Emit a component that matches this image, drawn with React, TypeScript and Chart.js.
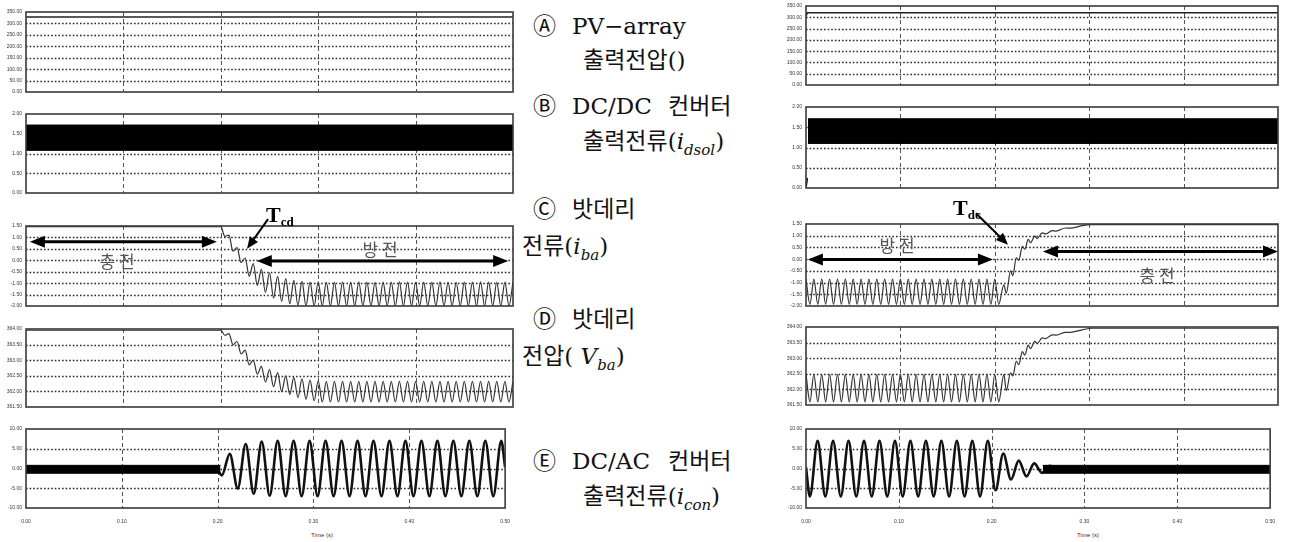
import React, { useEffect, useRef } from "react";
import { Chart, registerables } from "chart.js";
Chart.register(...registerables);

// ---------------- data ----------------
const timeTicks = [0, 0.1, 0.2, 0.3, 0.4, 0.5];
const aTicks = [0, 50, 100, 150, 200, 250, 300, 350];
const bTicks = [0, 0.5, 1, 1.5, 2];
const cTicks = [-2, -1.5, -1, -0.5, 0, 0.5, 1, 1.5];
const dTicks = [361.5, 362, 362.5, 363, 363.5, 364];
const eTicks = [-10, -5, 0, 5, 10];

// A: PV-array output voltage
const leftAT = [0, 0.5];
const leftAV = [328, 328];
const rightAT = [0, 0.0015, 0.5];
const rightAV = [305, 320, 320];

// B: DC/DC converter output current (dense ripple band: upper / lower envelope)
const leftBT = [0, 0.5];
const leftBUpper = [1.72, 1.72];
const leftBLower = [1.08, 1.08];
const rightBT = [0.002, 0.5];
const rightBUpper = [1.71, 1.71];
const rightBLower = [1.1, 1.1];
const rightBStartT = [0, 0.0015];
const rightBStartV = [0, 0.25];

// battery waveforms sampled at every half-cycle of the 120 Hz ripple
const battStep = 1 / 240;

// C: battery current, left (charge -> discharge at 0.2 s)
const leftCPreT = [0];
const leftCPreV = [1.47];
const leftCStart = 0.2;
const leftCV = [
  1.47, 1.05, 1.1, 0.4, 0.55, -0.1, 0.1, -0.7, -0.15, -1.1, -0.4, -1.4, -0.55, -1.65, -0.7, -1.8, -0.8, -1.9, -0.88, -1.96, -0.92,
  -2.0, -0.95, -2.0, -0.94, -2.0, -0.95, -2.0, -0.96, -2.0, -0.95,
  -2.0, -0.95, -2.0, -0.94, -2.0, -0.95, -2.0, -0.96, -2.0, -0.95,
  -2.0, -0.95, -2.0, -0.94, -2.0, -0.95, -2.0, -0.96, -2.0, -0.95,
  -2.0, -0.95, -2.0, -0.94, -2.0, -0.95, -2.0, -0.96, -2.0, -0.95,
  -2.0, -0.95, -2.0, -0.94, -2.0, -0.95, -2.0, -0.96, -2.0, -0.95,
  -2.0, -0.95,
];

// D: battery voltage, left
const leftDPreT = [0];
const leftDPreV = [363.96];
const leftDStart = 0.2;
const leftDV = [
  363.96, 363.8, 363.85, 363.5, 363.6, 363.2, 363.32, 362.85, 363.0, 362.55, 362.8, 362.3, 362.7, 362.15, 362.6, 362.0,
  362.5, 361.9, 362.45, 361.8, 362.4, 361.75, 362.36, 361.7, 362.34,
  361.66, 362.32, 361.66, 362.32, 361.66, 362.32, 361.66, 362.32, 361.66, 362.32, 361.66, 362.32,
  361.66, 362.32, 361.66, 362.32, 361.66, 362.32, 361.66, 362.32, 361.66, 362.32, 361.66, 362.32,
  361.66, 362.32, 361.66, 362.32, 361.66, 362.32, 361.66, 362.32, 361.66, 362.32, 361.66, 362.32,
  361.66, 362.32, 361.66, 362.32, 361.66, 362.32, 361.66, 362.32, 361.66, 362.32, 361.66, 362.32,
];

// C: battery current, right (discharge -> charge at 0.2 s)
const rightCStart = 0;
const rightCSteadyV = [
  -0.85, -1.93, -0.85, -1.93, -0.85, -1.93, -0.85, -1.93, -0.85, -1.93,
  -0.85, -1.93, -0.85, -1.93, -0.85, -1.93, -0.85, -1.93, -0.85, -1.93,
  -0.85, -1.93, -0.85, -1.93, -0.85, -1.93, -0.85, -1.93, -0.85, -1.93,
  -0.85, -1.93, -0.85, -1.93, -0.85, -1.93, -0.85, -1.93, -0.85, -1.93,
  -0.85, -1.93, -0.85, -1.93, -0.85, -1.93, -0.85, -1.93, -0.85, -1.93,
];
const rightTransT = [
  0.2096, 0.2122, 0.2167, 0.2191, 0.2227, 0.2255, 0.2291, 0.2318, 0.2354, 0.2378, 0.2424,
  0.2449, 0.2502, 0.254, 0.2608, 0.265, 0.2748, 0.28, 0.2925, 0.303, 0.5,
];
const rightCTransV = [
  -1.1, -1.45, -0.5, -0.7, 0.05, -0.05, 0.55, 0.42, 0.84, 0.7, 0.98, 0.88, 1.12, 1.08, 1.22, 1.2, 1.33, 1.32, 1.43, 1.47, 1.47,
];

// D: battery voltage, right
const rightDStart = 0;
const rightDSteadyV = [
  362.48, 361.6, 362.48, 361.6, 362.48, 361.6, 362.48, 361.6, 362.48, 361.6,
  362.48, 361.6, 362.48, 361.6, 362.48, 361.6, 362.48, 361.6, 362.48, 361.6,
  362.48, 361.6, 362.48, 361.6, 362.48, 361.6, 362.48, 361.6, 362.48, 361.6,
  362.48, 361.6, 362.48, 361.6, 362.48, 361.6, 362.48, 361.6, 362.48, 361.6,
  362.48, 361.6, 362.48, 361.6, 362.48, 361.6, 362.48, 361.6, 362.48, 361.6,
];
const rightDTransV = [
  362.48, 361.96, 362.53, 362.43, 362.9, 362.79, 363.21, 363.1, 363.42, 363.31, 363.54,
  363.47, 363.65, 363.63, 363.75, 363.74, 363.83, 363.83, 363.91, 363.96, 363.96,
];

// E: DC/AC converter output current (60 Hz, sampled at each half-cycle)
const acStep = 1 / 120;
const leftEBandT = [0, 0.203];
const leftEBandUpper = [0.8, 0.8];
const leftEBandLower = [-1.2, -1.2];
const leftEPreT = [0.2];
const leftEPreV = [-0.2];
const leftEStart = 0.2043;
const leftEV = [
  -1.75, 3.7, -5.1, 6.2, -6.4, 6.8, -6.9, 7.0,
  -7.0, 7.0, -7.0, 7.0, -7.0, 7.0, -7.0, 7.0, -7.0, 7.0, -7.0, 7.0, -7.0, 7.0,
  -7.0, 7.0, -7.0, 7.0, -7.0, 7.0, -7.0, 7.0, -7.0, 7.0, -7.0, 7.0, -7.0, 7.0,
];
const leftEEndT = [0.5];
const leftEEndV = [0.3];

const rightEPreT = [0];
const rightEPreV = [0.3];
const rightEStart = 1 / 240;
const rightEV = [
  -7.1, 7.0, -7.1, 7.0, -7.1, 7.0, -7.1, 7.0, -7.1, 7.0, -7.1, 7.0,
  -7.1, 7.0, -7.1, 7.0, -7.1, 7.0, -7.1, 7.0, -7.1, 7.0, -7.1, 7.0,
  -5.5, 3.8, -2.8, 2.0, -2.0, 1.3, -1.1, 0.7, -0.6,
];
const rightEBandT = [0.255, 0.5];
const rightEBandUpper = [0.8, 0.8];
const rightEBandLower = [-1.2, -1.2];

// ---------------- helpers ----------------
const pts = (t: number[], v: number[]) => t.map((x, i) => ({ x, y: v[i] }));
const sampled = (t0: number, step: number, v: number[]) => v.map((y, i) => ({ x: t0 + i * step, y }));

const line = (data: any[], width: number, color: string, smooth = false) => ({
  data,
  borderColor: color,
  borderWidth: width,
  pointRadius: 0,
  fill: false,
  tension: 0,
  cubicInterpolationMode: smooth ? "monotone" : "default",
});
const band = (t: number[], up: number[], lo: number[]) => [
  { data: pts(t, up), borderColor: "#000", borderWidth: 1, backgroundColor: "#000", fill: "+1", pointRadius: 0, tension: 0 },
  { data: pts(t, lo), borderColor: "#000", borderWidth: 1, fill: false, pointRadius: 0, tension: 0 },
];

type Arrow = { kind: "double" | "single"; x1: number; y1: number; x2: number; y2: number };

function drawHead(ctx: CanvasRenderingContext2D, tx: number, ty: number, fx: number, fy: number, len: number, half: number) {
  const a = Math.atan2(ty - fy, tx - fx);
  const bx = tx - len * Math.cos(a);
  const by = ty - len * Math.sin(a);
  ctx.beginPath();
  ctx.moveTo(tx, ty);
  ctx.lineTo(bx + half * Math.sin(a), by - half * Math.cos(a));
  ctx.lineTo(bx - half * Math.sin(a), by + half * Math.cos(a));
  ctx.closePath();
  ctx.fill();
}

const sketchPlugin = {
  id: "sketch",
  beforeDatasetsDraw(chart: any, _a: any, opts: any) {
    const { ctx, chartArea: ar, scales } = chart;
    const xs = scales.x;
    const ys = scales.y;
    ctx.save();
    ctx.strokeStyle = "#2a2a2a";
    ctx.lineWidth = 1.3;
    ctx.setLineDash([1.6, 2]);
    for (const v of opts.yTicks as number[]) {
      if (v === ys.min || v === ys.max) continue;
      const py = Math.round(ys.getPixelForValue(v)) + 0.5;
      ctx.beginPath();
      ctx.moveTo(ar.left, py);
      ctx.lineTo(ar.right, py);
      ctx.stroke();
    }
    ctx.strokeStyle = "#555";
    ctx.lineWidth = 1;
    ctx.setLineDash([4, 3]);
    for (const v of opts.xTicks as number[]) {
      if (v === xs.min || v === xs.max) continue;
      const px = Math.round(xs.getPixelForValue(v)) + 0.5;
      ctx.beginPath();
      ctx.moveTo(px, ar.top);
      ctx.lineTo(px, ar.bottom);
      ctx.stroke();
    }
    ctx.restore();
  },
  afterDatasetsDraw(chart: any, _a: any, opts: any) {
    const { ctx, chartArea: ar, scales } = chart;
    ctx.save();
    ctx.setLineDash([]);
    ctx.strokeStyle = "#3a3a3a";
    ctx.lineWidth = 1.6;
    ctx.strokeRect(ar.left, ar.top, ar.right - ar.left, ar.bottom - ar.top);
    ctx.fillStyle = "#000";
    ctx.strokeStyle = "#000";
    for (const a of (opts.arrows || []) as Arrow[]) {
      const x1 = scales.x.getPixelForValue(a.x1);
      const y1 = scales.y.getPixelForValue(a.y1);
      const x2 = scales.x.getPixelForValue(a.x2);
      const y2 = scales.y.getPixelForValue(a.y2);
      const ang = Math.atan2(y2 - y1, x2 - x1);
      if (a.kind === "double") {
        const len = 15;
        ctx.lineWidth = 3;
        ctx.beginPath();
        ctx.moveTo(x1 + (len - 2) * Math.cos(ang), y1 + (len - 2) * Math.sin(ang));
        ctx.lineTo(x2 - (len - 2) * Math.cos(ang), y2 - (len - 2) * Math.sin(ang));
        ctx.stroke();
        drawHead(ctx, x1, y1, x2, y2, len, 6);
        drawHead(ctx, x2, y2, x1, y1, len, 6);
      } else {
        const len = 12;
        ctx.lineWidth = 2;
        ctx.beginPath();
        ctx.moveTo(x1, y1);
        ctx.lineTo(x2 - (len - 2) * Math.cos(ang), y2 - (len - 2) * Math.sin(ang));
        ctx.stroke();
        drawHead(ctx, x2, y2, x1, y1, len, 5);
      }
    }
    ctx.restore();
  },
};

// annotation arrows (time, value coordinates of each C plot)
const leftCArrows: Arrow[] = [
  { kind: "double", x1: 0.004, y1: 0.81, x2: 0.196, y2: 0.81 },
  { kind: "double", x1: 0.237, y1: -0.03, x2: 0.495, y2: -0.03 },
  { kind: "single", x1: 0.2485, y1: 1.8, x2: 0.2269, y2: 0.5 },
];
const rightCArrows: Arrow[] = [
  { kind: "double", x1: 0.002, y1: -0.02, x2: 0.198, y2: -0.02 },
  { kind: "double", x1: 0.251, y1: 0.33, x2: 0.5, y2: 0.33 },
  { kind: "single", x1: 0.18, y1: 1.96, x2: 0.214, y2: 0.61 },
];

type Spec = {
  key: string;
  box: { left: number; right: number; top: number; bottom: number };
  yMin: number;
  yMax: number;
  yStep: number;
  yTicks: number[];
  datasets: any[];
  showX?: boolean;
  arrows?: Arrow[];
  padTop?: number;
};

const TICK_FONT = "'Liberation Sans', Arial, sans-serif";
const Y_W = 30;
const PAD_R = 8;

function MiniChart({ spec }: { spec: Spec }) {
  const ref = useRef<HTMLCanvasElement>(null);
  const padTop = spec.padTop ?? 6;
  const padBottom = spec.showX ? 2 : 6;
  const xH = spec.showX ? 22 : 0;
  const w = spec.box.right - spec.box.left + Y_W + PAD_R;
  const h = spec.box.bottom - spec.box.top + padTop + padBottom + xH;
  useEffect(() => {
    const chart = new Chart(ref.current as HTMLCanvasElement, {
      type: "line",
      data: { datasets: spec.datasets },
      options: {
        animation: false,
        responsive: true,
        maintainAspectRatio: false,
        events: [],
        layout: { padding: { left: 0, right: PAD_R, top: padTop, bottom: padBottom } },
        plugins: {
          legend: { display: false },
          tooltip: { enabled: false },
          sketch: { yTicks: spec.yTicks, xTicks: timeTicks, arrows: spec.arrows || [] },
        } as any,
        scales: {
          x: {
            type: "linear",
            min: 0,
            max: 0.5,
            grid: { display: false, drawTicks: false },
            border: { display: false },
            ticks: {
              display: !!spec.showX,
              stepSize: 0.1,
              autoSkip: false,
              maxRotation: 0,
              padding: 11,
              color: "#333",
              font: { size: 5, family: TICK_FONT },
              callback: (v: any) => Number(v).toFixed(2),
            },
            afterFit: (s: any) => {
              s.height = xH;
            },
          },
          y: {
            type: "linear",
            min: spec.yMin,
            max: spec.yMax,
            grid: { display: false, drawTicks: false },
            border: { display: false },
            ticks: {
              stepSize: spec.yStep,
              autoSkip: false,
              padding: 4,
              color: "#333",
              font: { size: 5, family: TICK_FONT },
              callback: (v: any) => Number(v).toFixed(2),
            },
            afterFit: (s: any) => {
              s.width = Y_W;
            },
          },
        },
      } as any,
      plugins: [sketchPlugin as any],
    });
    return () => chart.destroy();
  }, []);
  return (
    <div style={{ position: "absolute", left: spec.box.left - Y_W, top: spec.box.top - padTop, width: w, height: h }}>
      <canvas ref={ref} />
    </div>
  );
}

const L = { left: 26, right: 513 };
const R = { left: 806, right: 1278 };

const specs: Spec[] = [
  { key: "la", box: { ...L, top: 11, bottom: 93 }, yMin: 0, yMax: 350, yStep: 50, yTicks: aTicks, datasets: [line(pts(leftAT, leftAV), 1.5, "#222")] },
  { key: "lb", box: { ...L, top: 113, bottom: 194 }, yMin: 0, yMax: 2, yStep: 0.5, yTicks: bTicks, datasets: band(leftBT, leftBUpper, leftBLower) },
  {
    key: "lc", box: { ...L, top: 226, bottom: 307 }, yMin: -2, yMax: 1.5, yStep: 0.5, yTicks: cTicks, padTop: 26, arrows: leftCArrows,
    datasets: [line([...pts(leftCPreT, leftCPreV), ...sampled(leftCStart, battStep, leftCV)], 1.2, "#333", true)],
  },
  {
    key: "ld", box: { ...L, top: 328, bottom: 408 }, yMin: 361.5, yMax: 364, yStep: 0.5, yTicks: dTicks,
    datasets: [line([...pts(leftDPreT, leftDPreV), ...sampled(leftDStart, battStep, leftDV)], 1.2, "#333", true)],
  },
  {
    key: "le", box: { ...L, top: 428, bottom: 508 }, yMin: -10, yMax: 10, yStep: 5, yTicks: eTicks, showX: true,
    datasets: [
      ...band(leftEBandT, leftEBandUpper, leftEBandLower),
      line([...pts(leftEPreT, leftEPreV), ...sampled(leftEStart, acStep, leftEV), ...pts(leftEEndT, leftEEndV)], 2.6, "#111", true),
    ],
  },
  { key: "ra", box: { ...R, top: 5, bottom: 86 }, yMin: 0, yMax: 350, yStep: 50, yTicks: aTicks, datasets: [line(pts(rightAT, rightAV), 1.5, "#222")] },
  {
    key: "rb", box: { ...R, top: 106, bottom: 189 }, yMin: 0, yMax: 2, yStep: 0.5, yTicks: bTicks,
    datasets: [...band(rightBT, rightBUpper, rightBLower), line(pts(rightBStartT, rightBStartV), 1.5, "#111")],
  },
  {
    key: "rc", box: { ...R, top: 224, bottom: 307 }, yMin: -2, yMax: 1.5, yStep: 0.5, yTicks: cTicks, padTop: 26, arrows: rightCArrows,
    datasets: [line([...sampled(rightCStart, battStep, rightCSteadyV), ...pts(rightTransT, rightCTransV)], 1.2, "#333", true)],
  },
  {
    key: "rd", box: { ...R, top: 326, bottom: 406 }, yMin: 361.5, yMax: 364, yStep: 0.5, yTicks: dTicks,
    datasets: [line([...sampled(rightDStart, battStep, rightDSteadyV), ...pts(rightTransT, rightDTransV)], 1.2, "#333", true)],
  },
  {
    key: "re", box: { ...R, top: 428, bottom: 508 }, yMin: -10, yMax: 10, yStep: 5, yTicks: eTicks, showX: true,
    datasets: [
      ...band(rightEBandT, rightEBandUpper, rightEBandLower),
      line([...pts(rightEPreT, rightEPreV), ...sampled(rightEStart, acStep, rightEV)], 2.6, "#111", true),
    ],
  },
];

// ---------------- text ----------------
const SERIF = "'DejaVu Serif', 'DejaVu Sans', 'Noto Sans CJK KR', serif";
const KR = "'Noto Sans CJK KR', 'DejaVu Serif', sans-serif";

function Txt({ x, y, size = 23, family = SERIF, color = "#111", children, center = false, weight = 400 }: any) {
  return (
    <div
      style={{
        position: "absolute",
        left: x,
        top: y,
        fontSize: size,
        fontFamily: family,
        color,
        lineHeight: 1,
        whiteSpace: "nowrap",
        fontWeight: weight,
        transform: center ? "translate(-50%, -50%)" : undefined,
      }}
    >
      {children}
    </div>
  );
}

const it = (s: string) => <span style={{ fontStyle: "italic", fontFamily: SERIF }}>{s}</span>;
const sub = (s: string) => (
  <span style={{ fontStyle: "italic", fontFamily: SERIF, fontSize: 15, verticalAlign: -6 }}>{s}</span>
);

export default function App() {
  return (
    <div style={{ position: "absolute", left: 0, top: 0, width: 1297, height: 542, background: "#fff", overflow: "hidden" }}>
      {specs.map((s) => (
        <MiniChart key={s.key} spec={s} />
      ))}

      {/* x-axis titles */}
      <Txt x={322} y={535} size={6} family={TICK_FONT} color="#333" center>Time (s)</Txt>
      <Txt x={1088} y={535} size={6} family={TICK_FONT} color="#333" center>Time (s)</Txt>

      {/* annotations in C plots */}
      <Txt x={117} y={260} size={17} family={KR} color="#555" center>충 전</Txt>
      <Txt x={380} y={248} size={17} family={KR} color="#555" center>방 전</Txt>
      <Txt x={897} y={244} size={17} family={KR} color="#555" center>방 전</Txt>
      <Txt x={1157} y={274} size={17} family={KR} color="#555" center>충 전</Txt>
      <Txt x={266} y={204} size={22} family="'Liberation Serif', serif" weight={700} color="#000">
        T<span style={{ fontSize: 13, verticalAlign: -4 }}>cd</span>
      </Txt>
      <Txt x={953} y={197} size={22} family="'Liberation Serif', serif" weight={700} color="#000">
        T<span style={{ fontSize: 13, verticalAlign: -4 }}>dc</span>
      </Txt>

      {/* middle labels */}
      <Txt x={533} y={15}>Ⓐ</Txt>
      <Txt x={572} y={15}>PV−array</Txt>
      <Txt x={583} y={49}>출력전압()</Txt>

      <Txt x={533} y={95}>Ⓑ</Txt>
      <Txt x={572} y={95}>DC/DC</Txt>
      <Txt x={668} y={95}>컨버터</Txt>
      <Txt x={583} y={130}>출력전류({it("i")}{sub("dsol")})</Txt>

      <Txt x={533} y={198}>Ⓒ</Txt>
      <Txt x={572} y={198}>밧데리</Txt>
      <Txt x={522} y={235}>전류({it("i")}{sub("ba")})</Txt>

      <Txt x={533} y={308}>Ⓓ</Txt>
      <Txt x={572} y={308}>밧데리</Txt>
      <Txt x={522} y={345}>전압( {it("V")}{sub("ba")})</Txt>

      <Txt x={533} y={450}>Ⓔ</Txt>
      <Txt x={572} y={450}>DC/AC</Txt>
      <Txt x={668} y={450}>컨버터</Txt>
      <Txt x={583} y={485}>출력전류({it("i")}{sub("con")})</Txt>
    </div>
  );
}
